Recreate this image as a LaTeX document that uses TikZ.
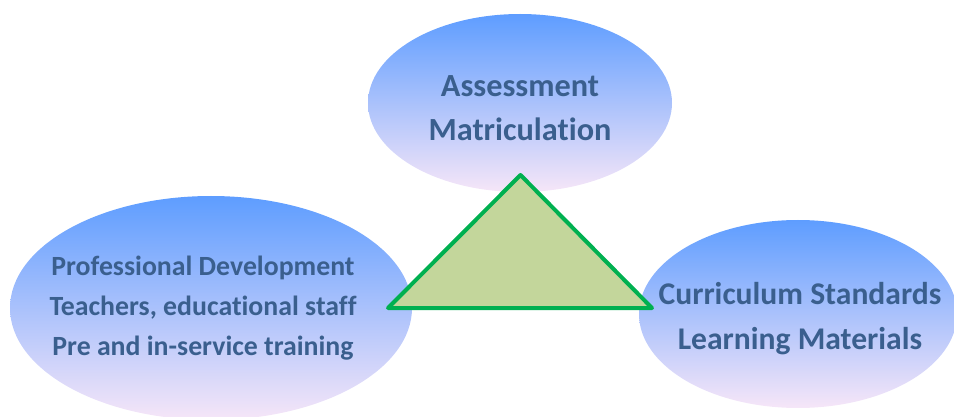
\documentclass[tikz,border=0pt]{standalone}
\usepackage{fontspec}
\setmainfont{Carlito}[Ligatures={NoCommon,NoContextual}]
\usetikzlibrary{shapes.geometric}
\definecolor{elltop}{HTML}{5E9DFF}
\definecolor{ellmid}{HTML}{84C0FF}
\definecolor{ellbot}{HTML}{F6E6F8}
\definecolor{txtblue}{HTML}{3A5F8E}
\definecolor{trifill}{HTML}{C3D69B}
\definecolor{tridraw}{HTML}{00B050}
\tikzset{
  bubble/.style={ellipse, inner sep=0pt, top color=elltop, middle color=ellmid, bottom color=ellbot, draw=none},
  lbl/.style={align=center, text=txtblue, inner sep=0pt, font=\bfseries},
  tri/.style={fill=trifill, draw=tridraw, line width=4pt, line join=round}
}
\begin{document}
\begin{tikzpicture}[x=1pt,y=-1pt]
\useasboundingbox (0,0) rectangle (954,417);
\clip (0,0) rectangle (954,417);
\node[bubble, minimum width=304pt, minimum height=178pt] (top) at (520,103) {};
\node[bubble, minimum width=402pt, minimum height=224pt] (left) at (211,308) {};
\node[bubble, minimum width=318pt, minimum height=188pt] (right) at (798,314) {};
\node[lbl, font=\bfseries\fontsize{32.3}{44}\selectfont] (ttop) at (520,108) {Assessment\\Matriculation};
\node[lbl, font=\bfseries\fontsize{27.8}{40}\selectfont] (tleft) at (203,308) {Professional Development\\Teachers, educational staff\\Pre and in-service training};
\node[lbl, font=\bfseries\fontsize{31.6}{45}\selectfont] (tright) at (800,319) {Curriculum Standards\\Learning Materials};
\coordinate (apex) at (520.5,175);
\coordinate (bl) at (388,308);
\coordinate (br) at (652,308);
\draw[tri] (apex) -- (bl) -- (br) -- cycle;
\end{tikzpicture}
\end{document}
